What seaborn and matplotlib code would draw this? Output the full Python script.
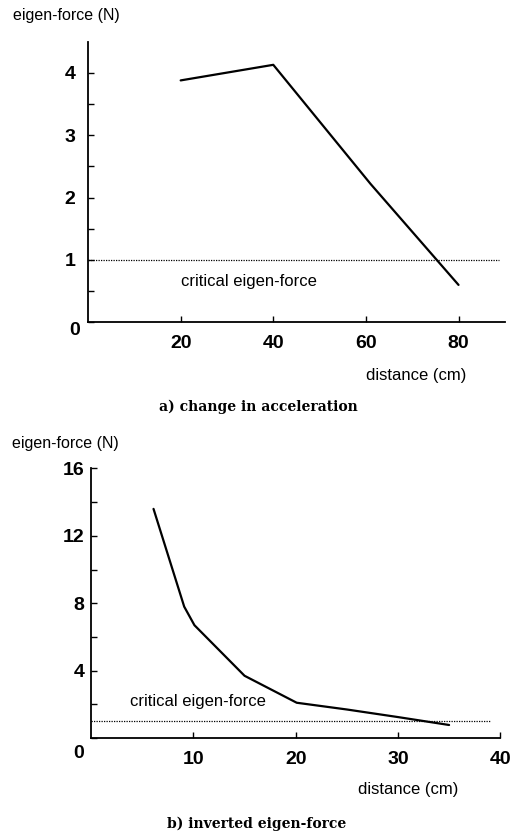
import numpy as np
import pandas as pd
import matplotlib
matplotlib.use("Agg")
import matplotlib.pyplot as plt
import seaborn as sns

# a) change in acceleration
dist_a = [20, 40, 61, 80]
force_a = [3.88, 4.13, 2.22, 0.6]

# b) inverted eigen-force
dist_b = [6.1, 9.1, 10.1, 15.0, 20.1, 25.0, 30.0, 35.0]
force_b = [13.6, 7.8, 6.7, 3.7, 2.1, 1.7, 1.25, 0.78]

critical = 1.0

sns.set_style("ticks")
plt.rcParams['font.family'] = ['Liberation Sans', 'DejaVu Sans']
for key in ["text.color", "axes.labelcolor", "xtick.color", "ytick.color", "axes.edgecolor"]:
    plt.rcParams[key] = "black"

fig = plt.figure(figsize=(5.12, 8.35), dpi=100)
ax1 = fig.add_axes([0.172, 0.614, 0.814, 0.336])
ax2 = fig.add_axes([0.178, 0.116, 0.799, 0.323])

df_a = pd.DataFrame({"distance": dist_a, "force": force_a})
df_b = pd.DataFrame({"distance": dist_b, "force": force_b})

sns.lineplot(data=df_a, x="distance", y="force", ax=ax1, color="black", lw=1.6)
sns.lineplot(data=df_b, x="distance", y="force", ax=ax2, color="black", lw=1.6)

ax1.axhline(critical, xmin=0, xmax=0.985, color="black", ls=(0, (1, 1)), lw=0.9)
ax2.axhline(critical, xmin=0, xmax=0.975, color="black", ls=(0, (1, 1)), lw=0.9)

ax1.text(20, 0.65, "critical eigen-force", fontsize=12, va="center", ha="left")
ax2.text(3.8, 2.2, "critical eigen-force", fontsize=12, va="center", ha="left")

ax1.set_xlim(0, 90)
ax1.set_ylim(0, 4.5)
ax1.set_xticks([20, 40, 60, 80])
ax1.set_yticks([0, 1, 2, 3, 4])
ax1.set_yticklabels(["", "1", "2", "3", "4"])
ax1.set_yticks(np.arange(0.5, 4.5, 1), minor=True)

ax2.set_xlim(0, 40)
ax2.set_ylim(0, 16)
ax2.set_xticks([10, 20, 30, 40])
ax2.set_yticks([0, 4, 8, 12, 16])
ax2.set_yticklabels(["", "4", "8", "12", "16"])
ax2.set_yticks([2, 6, 10, 14], minor=True)

# the "0" at each origin sits a little below the other y labels
for ax, ypad, zoff in ((ax1, 9, (-6, -6)), (ax2, 5, (-5, -11))):
    sns.despine(ax=ax)
    ax.spines["left"].set_linewidth(1.3)
    ax.spines["bottom"].set_linewidth(1.3)
    ax.tick_params(axis="both", which="both", direction="in", length=4, width=1,
                   labelsize=14, pad=9)
    ax.tick_params(axis="y", which="major", pad=ypad)
    for lab in ax.get_xticklabels() + ax.get_yticklabels():
        lab.set_fontweight("bold")
    ax.annotate("0", xy=(0, 0), xycoords="data", xytext=zoff, textcoords="offset points",
                fontsize=14, fontweight="bold", ha="right", va="center")
    ax.set_xlabel("")
    ax.set_ylabel("")

fig.text(0.025, 0.982, "eigen-force (N)", fontsize=11.5, va="center", ha="left")
fig.text(0.91, 0.55, "distance (cm)", fontsize=12, va="center", ha="right")
fig.text(0.504, 0.513, "a) change in acceleration", fontsize=10,
         family="DejaVu Serif", fontweight="bold", va="center", ha="center")

fig.text(0.023, 0.469, "eigen-force (N)", fontsize=11.5, va="center", ha="left")
fig.text(0.895, 0.055, "distance (cm)", fontsize=12, va="center", ha="right")
fig.text(0.502, 0.013, "b) inverted eigen-force", fontsize=10,
         family="DejaVu Serif", fontweight="bold", va="center", ha="center")

fig.savefig("out.png", dpi=100)
